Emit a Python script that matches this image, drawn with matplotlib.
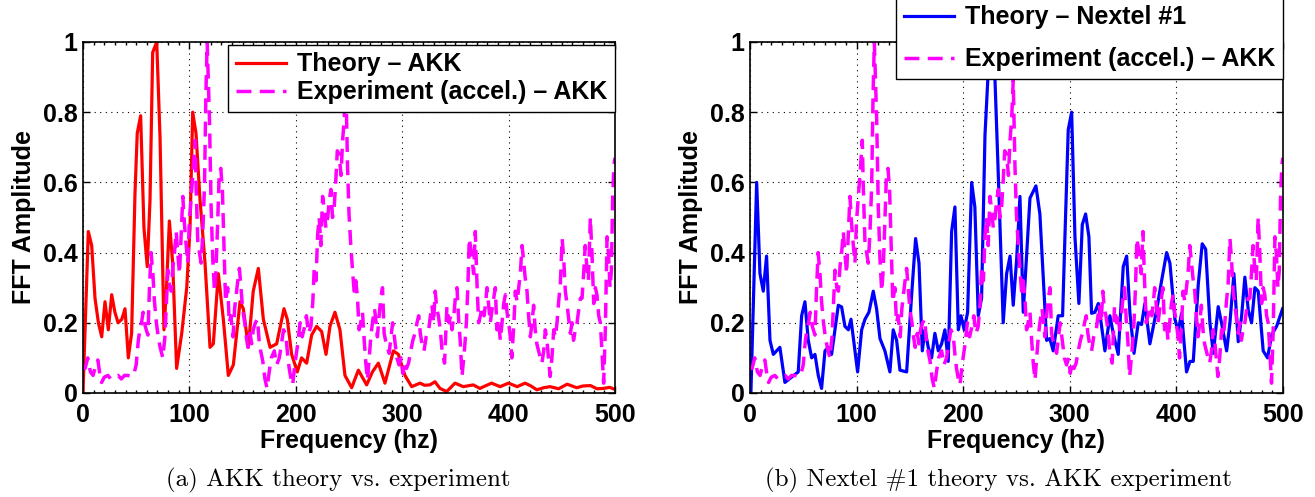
import numpy as np
import matplotlib
matplotlib.use("Agg")
import matplotlib.pyplot as plt
from matplotlib.ticker import MultipleLocator

plt.rcParams['font.family'] = ['Liberation Sans', 'DejaVu Sans']
plt.rcParams['font.weight'] = 'bold'

# ------------------------------------------------------------
# Theory - AKK (red)
# ------------------------------------------------------------
akk_hz = [0, 5, 8.2, 11.3, 14.5, 17.6, 20.7, 23.8, 27, 30, 33, 36.5, 39.5, 42.6,
          45.7, 48.9, 51, 54.2, 57.3, 60.4, 63, 65.5, 69.3, 72.4, 76.1, 78.5,
          81.2, 84.3, 88, 92.8, 97.5, 100.6, 103.1, 106.2, 110, 114.7, 119.4,
          122.5, 127.2, 131.9, 136.6, 141.3, 147.6, 150.7, 155.4, 160, 164.8,
          169.5, 175.8, 182, 188.9, 192, 196.1, 201.4, 205.4, 210.2, 214.9,
          219.6, 224.3, 228.4, 232.1, 236.8, 241.5, 246.2, 252.5, 258.8, 266.6,
          272, 277.6, 283.8, 291.7, 296.4, 302.6, 308.9, 316.7, 321, 326, 330.8,
          335.5, 341.8, 349.6, 357.4, 366.8, 373, 378, 384, 392, 400, 408, 415.5,
          421, 426.5, 433, 439, 447, 455, 464, 470, 477, 483, 489, 495, 500]
akk_amp = [0.0, 0.46, 0.42, 0.27, 0.2, 0.16, 0.26, 0.18, 0.28, 0.23, 0.2, 0.21,
           0.24, 0.10, 0.17, 0.57, 0.74, 0.79, 0.47, 0.36, 0.55, 0.97, 1.0, 0.73,
           0.18, 0.30, 0.49, 0.37, 0.07, 0.17, 0.30, 0.47, 0.80, 0.74, 0.55, 0.37,
           0.13, 0.14, 0.34, 0.21, 0.05, 0.08, 0.26, 0.24, 0.13, 0.29, 0.355,
           0.21, 0.13, 0.14, 0.24, 0.21, 0.11, 0.06, 0.10, 0.085, 0.165, 0.19,
           0.175, 0.11, 0.19, 0.23, 0.18, 0.05, 0.015, 0.065, 0.023, 0.06, 0.085,
           0.028, 0.12, 0.11, 0.05, 0.018, 0.028, 0.022, 0.023, 0.032, 0.013,
           0.004, 0.028, 0.018, 0.023, 0.013, 0.02, 0.028, 0.018, 0.028, 0.018,
           0.028, 0.02, 0.009, 0.015, 0.018, 0.012, 0.025, 0.015, 0.02, 0.021,
           0.012, 0.013, 0.016, 0.01]

# ------------------------------------------------------------
# Theory - Nextel #1 (blue)
# ------------------------------------------------------------
nextel_hz = [0.9, 6.3, 9.4, 12.5, 15.6, 18.8, 21.9, 25, 28.1, 32.8, 39.1, 45.3,
             48.5, 51.6, 54.7, 57.9, 61, 64.1, 67.2, 70.4, 73.5, 76.6, 79.8,
             82.9, 86, 89.1, 92.3, 94.8, 101, 104.8, 107.9, 111.6, 115.7, 118.8,
             122, 126.6, 131.3, 134.4, 137.6, 140.7, 147, 151.7, 155.4, 158.6,
             161.7, 164.2, 167.3, 170.4, 173.5, 176.7, 179.8, 182.9, 186, 189.2,
             192.3, 195.5, 198, 201, 204.2, 208, 211, 214.2, 217.3, 220.5, 223.6,
             226.7, 229.8, 233, 237.6, 240.8, 244, 247, 250.2, 253.3, 256.4,
             262.7, 268.3, 272, 278.3, 281.4, 284.5, 289.2, 293.3, 295.5, 298.6,
             301.8, 304.9, 308.6, 311.8, 314.9, 318, 320.5, 323.6, 326.8, 329.9,
             333, 337.7, 340.8, 345.5, 350.2, 353.4, 356.5, 360.3, 364.3, 367.4,
             370.5, 375.2, 381.5, 386.2, 390.9, 394, 398.7, 401.8, 404.9, 409.6,
             412.8, 415.9, 420.6, 424.3, 427.5, 431.5, 434.7, 439.3, 442.4, 447.2,
             450.3, 454, 458.1, 461.2, 464.3, 467.5, 470.6, 473.7, 476.8, 481.5,
             485.6, 489.4, 494.1, 499.7]
nextel_amp = [0.0, 0.60, 0.34, 0.29, 0.39, 0.15, 0.11, 0.12, 0.13, 0.03, 0.045,
              0.06, 0.22, 0.26, 0.15, 0.10, 0.11, 0.05, 0.013, 0.12, 0.13, 0.11,
              0.18, 0.25, 0.245, 0.19, 0.18, 0.21, 0.06, 0.18, 0.21, 0.23, 0.29,
              0.24, 0.155, 0.12, 0.06, 0.18, 0.15, 0.065, 0.06, 0.28, 0.44, 0.37,
              0.12, 0.18, 0.13, 0.10, 0.17, 0.12, 0.14, 0.18, 0.09, 0.46, 0.53,
              0.18, 0.22, 0.18, 0.23, 0.60, 0.53, 0.22, 0.27, 0.735, 0.92, 0.99,
              0.90, 0.62, 0.20, 0.34, 0.39, 0.25, 0.38, 0.56, 0.23, 0.555, 0.59,
              0.51, 0.15, 0.155, 0.12, 0.22, 0.22, 0.445, 0.75, 0.80, 0.445,
              0.255, 0.48, 0.51, 0.445, 0.227, 0.23, 0.255, 0.19, 0.12, 0.22,
              0.17, 0.11, 0.36, 0.39, 0.227, 0.113, 0.2, 0.195, 0.255, 0.14,
              0.236, 0.32, 0.40, 0.37, 0.21, 0.175, 0.227, 0.06, 0.09, 0.09, 0.31,
              0.425, 0.41, 0.2, 0.113, 0.246, 0.2, 0.12, 0.2, 0.34, 0.146, 0.217,
              0.33, 0.236, 0.2, 0.30, 0.29, 0.12, 0.1, 0.165, 0.19, 0.24]

# ------------------------------------------------------------
# Experiment (accel.) - AKK (magenta dashed), same in both panels
# ------------------------------------------------------------
exp_hz = [0, 2, 4.5, 7, 9.5, 12, 14, 16, 17.5, 20, 23.5, 26, 29.7, 33, 36, 39,
          42, 45, 47.5, 50, 52, 53.5, 55, 56.5, 58.5, 61, 62.5, 64, 65.7, 67.2,
          69, 70.5, 72.5, 75, 77, 78.2, 79.8, 81.5, 83, 84.5, 86, 87.6, 89,
          90.7, 92.3, 93.8, 95.4, 97, 98.5, 100, 101.5, 103.2, 105.4, 106.3,
          107.9, 109.5, 111, 112.5, 114.2, 115.5, 116.7, 118.9, 120.4, 122,
          123.6, 125, 126.5, 128, 129.5, 131, 132.5, 134, 136, 137.5, 139, 141,
          142.5, 144, 145.5, 147, 148.5, 150, 152, 153.5, 155, 157, 158.5, 160,
          162, 164, 165.5, 167, 169, 171, 173, 175, 177, 179.8, 182, 184.5,
          186.5, 188.5, 190.7, 192.3, 193.8, 195.5, 197, 199.5, 201.7, 204, 206,
          208, 210, 212, 214.2, 216, 217.3, 219, 220.5, 222, 223.5, 225.2,
          226.8, 228.3, 230, 231.5, 233, 234.5, 236.1, 237.5, 239, 240.8, 242.5,
          244, 245.5, 247, 248.6, 250, 251.7, 253.3, 254.8, 256.4, 258, 259.5,
          261, 262.7, 264.3, 265.8, 267.4, 269, 270.5, 272, 274, 275.5, 276.7,
          278.3, 279.9, 281.5, 283, 285, 287.7, 289.5, 291, 293, 295, 297, 299,
          300.5, 302.5, 304, 306, 308, 310, 312, 313.9, 315.5, 317, 318.6,
          320.5, 322.5, 324.9, 326.5, 328, 329.5, 331, 332.5, 334, 335.8, 337.5,
          339.8, 342, 344, 345.5, 346.8, 348.5, 349.9, 351.5, 353, 354.5, 356.2,
          358.7, 360.3, 361.8, 363, 365, 367.1, 368.7, 370.3, 371.8, 373.5, 375,
          377, 378.5, 379.7, 381.2, 382.8, 384.5, 386, 387.5, 389, 390.5, 392.2,
          393.8, 395.4, 397, 398.5, 400, 401.6, 403, 405, 406.3, 408, 409.5,
          411, 412.6, 414, 415.5, 417.3, 418.8, 420.4, 422, 423.5, 425, 426.5,
          428.2, 429.8, 431.3, 433, 434.5, 436, 437.5, 439, 440.7, 442.4, 444,
          445.5, 447, 448.6, 450.3, 451.8, 453.3, 455, 456.5, 458, 459.6, 461,
          462.7, 464.3, 466, 467.5, 469, 470.5, 472, 473.5, 475, 476.8, 478.3,
          480, 481.5, 483, 484.7, 486.2, 487.7, 489.3, 490.9, 492.5, 494, 495.3,
          496.6, 497.8, 499, 500]
exp_amp = [0.07, 0.07, 0.10, 0.06, 0.05, 0.08, 0.094, 0.05, 0.03, 0.045, 0.05,
           0.04, 0.045, 0.05, 0.04, 0.05, 0.05, 0.048, 0.05, 0.08, 0.15, 0.18,
           0.2, 0.23, 0.19, 0.165, 0.3, 0.40, 0.34, 0.26, 0.2, 0.165, 0.13, 0.1,
           0.16, 0.24, 0.35, 0.30, 0.29, 0.36, 0.40, 0.46, 0.40, 0.34, 0.45,
           0.56, 0.48, 0.42, 0.37, 0.49, 0.55, 0.62, 0.72, 0.59, 0.43, 0.40,
           0.37, 0.45, 0.59, 0.85, 1.0, 0.78, 0.53, 0.38, 0.29, 0.35, 0.48, 0.62,
           0.64, 0.58, 0.42, 0.26, 0.3, 0.2, 0.22, 0.16, 0.24, 0.28, 0.32, 0.355,
           0.3, 0.24, 0.2, 0.16, 0.13, 0.17, 0.14, 0.18, 0.2, 0.21, 0.15, 0.12,
           0.09, 0.04, 0.013, 0.06, 0.1, 0.12, 0.08, 0.1, 0.14, 0.18, 0.165,
           0.11, 0.07, 0.04, 0.023, 0.09, 0.137, 0.2, 0.16, 0.185, 0.22, 0.17,
           0.19, 0.26, 0.355, 0.32, 0.45, 0.5, 0.42, 0.56, 0.52, 0.47, 0.5, 0.55,
           0.58, 0.5, 0.53, 0.6, 0.69, 0.68, 0.62, 0.72, 0.78, 0.89, 0.65, 0.51,
           0.42, 0.35, 0.29, 0.32, 0.27, 0.18, 0.2, 0.23, 0.15, 0.085, 0.037,
           0.1, 0.16, 0.2, 0.24, 0.2, 0.16, 0.22, 0.27, 0.3, 0.17, 0.14, 0.113,
           0.16, 0.2, 0.15, 0.1, 0.08, 0.1, 0.056, 0.09, 0.07, 0.085, 0.12, 0.15,
           0.17, 0.2, 0.22, 0.17, 0.14, 0.12, 0.16, 0.18, 0.22, 0.25, 0.2, 0.29,
           0.24, 0.22, 0.18, 0.12, 0.085, 0.246, 0.2, 0.22, 0.18, 0.22, 0.27,
           0.3, 0.21, 0.15, 0.047, 0.13, 0.2, 0.31, 0.44, 0.4, 0.34, 0.46, 0.31,
           0.2, 0.22, 0.246, 0.22, 0.26, 0.30, 0.25, 0.2, 0.24, 0.27, 0.3, 0.18,
           0.21, 0.15, 0.2, 0.255, 0.28, 0.23, 0.2, 0.16, 0.1, 0.2, 0.29, 0.26,
           0.3, 0.34, 0.42, 0.38, 0.33, 0.29, 0.22, 0.16, 0.2, 0.25, 0.18, 0.14,
           0.12, 0.1, 0.085, 0.12, 0.18, 0.15, 0.1, 0.047, 0.1, 0.18, 0.16, 0.2,
           0.26, 0.31, 0.44, 0.38, 0.29, 0.25, 0.21, 0.17, 0.2, 0.15, 0.18, 0.2,
           0.24, 0.27, 0.27, 0.34, 0.42, 0.36, 0.32, 0.5, 0.4, 0.255, 0.3, 0.28,
           0.22, 0.2, 0.12, 0.028, 0.18, 0.445, 0.39, 0.3, 0.35, 0.56, 0.65, 0.67]

y_ticks = [0, 0.2, 0.4, 0.6, 0.8, 1]
y_ticklabels = ['0', '0.2', '0.4', '0.6', '0.8', '1']
x_ticks = [0, 100, 200, 300, 400, 500]

fs = 18
exp_dash = (0, (4.3, 2.4))


def style_axes(ax):
    ax.set_xlim(0, 500)
    ax.set_ylim(0, 1)
    ax.set_xticks(x_ticks)
    ax.set_yticks(y_ticks)
    ax.set_yticklabels(y_ticklabels)
    ax.xaxis.set_minor_locator(MultipleLocator(10))
    ax.tick_params(which='both', direction='in', top=True, right=True,
                   labelsize=fs, width=1.0)
    ax.tick_params(which='major', length=5)
    ax.tick_params(which='minor', length=2.5)
    ax.tick_params(axis='x', which='major', pad=7.5)
    ax.tick_params(axis='y', which='major', pad=4)
    for lab in ax.get_xticklabels() + ax.get_yticklabels():
        lab.set_fontweight('bold')
    ax.grid(True, which='major', color='black', linestyle=(0, (1, 4)),
            linewidth=0.8)
    for sp in ax.spines.values():
        sp.set_linewidth(1.2)
    ax.set_xlabel('Frequency (hz)', fontsize=fs, fontweight='bold', labelpad=1)
    ax.set_ylabel('FFT Amplitude', fontsize=fs, fontweight='bold', labelpad=5)


def add_legend(ax, loc, anchor, spacing):
    leg = ax.legend(loc=loc, bbox_to_anchor=anchor, fancybox=False,
                    framealpha=1, edgecolor='black', borderaxespad=0,
                    handlelength=2.0, handletextpad=0.45, borderpad=0.3,
                    labelspacing=spacing, prop={'weight': 'bold', 'size': fs})
    leg.get_frame().set_linewidth(1.0)
    leg.set_zorder(5)
    return leg


fig = plt.figure(figsize=(13.15, 4.97), dpi=100)
ax1 = fig.add_axes([0.0631, 0.2093, 0.4046, 0.7062])
ax2 = fig.add_axes([0.5703, 0.2093, 0.4053, 0.7062])

# (a) AKK theory vs. experiment
ax1.plot(akk_hz, akk_amp, color='red', linewidth=2.3, label='Theory \u2013 AKK')
ax1.plot(exp_hz, exp_amp, color='magenta', linewidth=2.5, linestyle=exp_dash,
         label='Experiment (accel.) \u2013 AKK')
style_axes(ax1)
add_legend(ax1, 'upper right', (1.0, 0.992), 0.16)

# (b) Nextel #1 theory vs. AKK experiment
ax2.plot(nextel_hz, nextel_amp, color='#0000ff', linewidth=2.3,
         label='Theory \u2013 Nextel #1')
ax2.plot(exp_hz, exp_amp, color='magenta', linewidth=2.5, linestyle=exp_dash,
         label='Experiment (accel.) \u2013 AKK')
style_axes(ax2)
add_legend(ax2, 'lower right', (1.0, 0.895), 0.72)

# sub-figure captions
fig.text(0.257, 0.034, '(a) AKK theory vs. experiment', ha='center',
         va='center', fontsize=18, family='cmr10', fontweight='normal')
fig.text(0.759, 0.034, '(b) Nextel #1 theory vs. AKK experiment', ha='center',
         va='center', fontsize=18, family='cmr10', fontweight='normal')

fig.savefig('out.png', dpi=100)
